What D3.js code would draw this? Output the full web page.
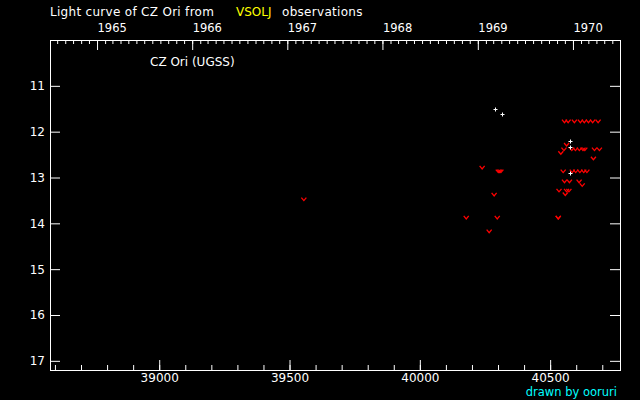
<!DOCTYPE html>
<html>
<head>
<meta charset="utf-8">
<script src="https://cdn.jsdelivr.net/npm/d3@7"></script>
<style>
  body { margin: 0; background: #000; }
  svg { display: block; }
</style>
</head>
<body>
<svg id="chart"></svg>
<script>
const width = 640;
const height = 400;
const marginTop = 40;
const marginRight = 20;
const marginBottom = 30;
const marginLeft = 50;

// JD - 2400000
const jdDomain = [38581, 40768];
const magDomain = [10, 17.2];
const majorJD = [39000, 39500, 40000, 40500];
const magTicks = [11, 12, 13, 14, 15, 16, 17];

// "fainter than" observations (red v)
const fainterJD = [
  39555, 40239, 40301, 40306, 40311, 40285, 40178, 40297, 40266, 40531,
  40555, 40569, 40593, 40616, 40631, 40647, 40663, 40684,
  40583, 40597, 40612, 40626, 40633, 40670, 40689,
  40563, 40553, 40541, 40666,
  40550, 40585, 40598, 40614, 40629, 40641,
  40555, 40574, 40611, 40623,
  40534, 40563, 40572, 40558, 40531
];
const fainterMag = [
  13.47, 12.78, 12.86, 12.86, 12.86, 13.37, 13.87, 13.87, 14.17, 13.87,
  11.77, 11.77, 11.77, 11.77, 11.77, 11.77, 11.77, 11.77,
  12.38, 12.38, 12.38, 12.38, 12.38, 12.38, 12.38,
  12.28, 12.38, 12.46, 12.58,
  12.86, 12.86, 12.86, 12.86, 12.86, 12.86,
  13.08, 13.08, 13.08, 13.16,
  13.28, 13.28, 13.28, 13.36, 13.87
];

// positive observations (white +)
const obsJD = [40289, 40316, 40577, 40577, 40577];
const obsMag = [11.51, 11.62, 12.21, 12.33, 12.91];

const font = "DejaVu Sans, sans-serif";

const svg = d3.select("#chart")
  .attr("width", width)
  .attr("height", height)
  .style("background", "#000");

const x = d3.scaleLinear()
  .domain(jdDomain)
  .range([marginLeft, width - marginRight]);

const y = d3.scaleLinear()
  .domain(magDomain)
  .range([marginTop, height - marginBottom]);

// calendar scale for the top axis, same pixels
const jdToDate = (jd) => new Date((jd - 40587.5) * 86400000);
const xDate = d3.scaleUtc()
  .domain(jdDomain.map(jdToDate))
  .range(x.range());

function styleAxis(g) {
  g.select(".domain").remove();
  g.selectAll("line").attr("stroke", "#fff");
  g.selectAll("text")
    .attr("fill", "#fff")
    .style("font-family", font)
    .style("font-size", "12px");
}

// bottom axis: minor every 100, major every 500
svg.append("g")
  .attr("transform", "translate(0," + (height - marginBottom) + ")")
  .call(d3.axisBottom(x).tickValues(d3.range(38600, 40768, 100)).tickSize(-5).tickFormat(""))
  .call(styleAxis);

svg.append("g")
  .attr("transform", "translate(0," + (height - marginBottom) + ")")
  .call(d3.axisBottom(x).tickValues(majorJD).tickSize(-10).tickPadding(3).tickFormat(d3.format("d")))
  .call(styleAxis);

// top axis: months and years
svg.append("g")
  .attr("transform", "translate(0," + marginTop + ")")
  .call(d3.axisTop(xDate).ticks(d3.utcMonth.every(1)).tickSize(-4).tickFormat(""))
  .call(styleAxis);

svg.append("g")
  .attr("transform", "translate(0," + marginTop + ")")
  .call(d3.axisTop(xDate).ticks(d3.utcYear.every(1)).tickSize(-10).tickPadding(8).tickFormat(d3.utcFormat("%Y")))
  .call(styleAxis)
  .call((g) => g.selectAll("text").attr("text-anchor", "start").style("font-size", "11.5px"));

// left / right axes
svg.append("g")
  .attr("transform", "translate(" + marginLeft + ",0)")
  .call(d3.axisLeft(y).tickValues(magTicks).tickSize(-10).tickPadding(5).tickFormat(d3.format("d")))
  .call(styleAxis);

svg.append("g")
  .attr("transform", "translate(" + (width - marginRight) + ",0)")
  .call(d3.axisRight(y).tickValues(magTicks).tickSize(-10).tickFormat(""))
  .call(styleAxis);

// frame
svg.append("rect")
  .attr("x", marginLeft + 0.5)
  .attr("y", marginTop + 0.5)
  .attr("width", width - marginLeft - marginRight)
  .attr("height", height - marginTop - marginBottom)
  .attr("fill", "none")
  .attr("stroke", "#fff")
  .attr("stroke-width", 1);

// red v marks
svg.append("g")
  .selectAll("path")
  .data(fainterJD.map((d, i) => [d, fainterMag[i]]))
  .join("path")
  .attr("transform", (d) => "translate(" + x(d[0]) + "," + y(d[1]) + ")")
  .attr("d", "M-2.5,-1.5L0,1.5L2.5,-1.5")
  .attr("fill", "none")
  .attr("stroke", "#ff0000")
  .attr("stroke-width", 1.3);

// white + marks
svg.append("g")
  .selectAll("path")
  .data(obsJD.map((d, i) => [d, obsMag[i]]))
  .join("path")
  .attr("transform", (d) => "translate(" + Math.round(x(d[0])) + "," + Math.round(y(d[1])) + ")")
  .attr("d", "M-1.5,0.5H2.5M0.5,-1.5V2.5")
  .attr("fill", "none")
  .attr("stroke", "#fff")
  .attr("stroke-width", 1);

// texts
const addText = (tx, ty, str, color, anchor) =>
  svg.append("text")
    .attr("x", tx)
    .attr("y", ty)
    .attr("text-anchor", anchor || "start")
    .attr("fill", color)
    .style("font-family", font)
    .style("font-size", "12px")
    .text(str);

addText(50, 16, "Light curve of CZ Ori from", "#fff").style("letter-spacing", "0.3px");
addText(236, 16, "VSOLJ", "#ffff00");
addText(282, 16, "observations", "#fff").style("letter-spacing", "0.3px");
addText(150, 66, "CZ Ori (UGSS)", "#fff");
addText(617, 396, "drawn by ooruri", "#00ffff", "end").style("font-size", "11.5px");
</script>
</body>
</html>
